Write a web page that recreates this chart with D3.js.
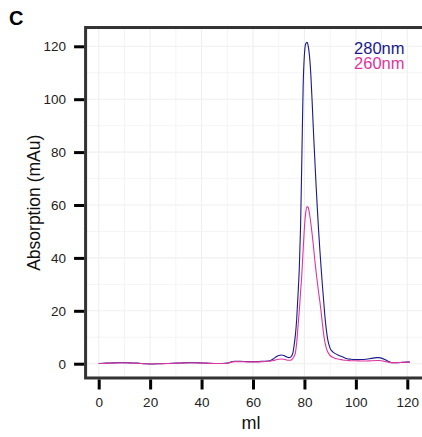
<!DOCTYPE html>
<html>
<head>
<meta charset="utf-8">
<script src="https://cdn.jsdelivr.net/npm/d3@7"></script>
<style>
  body { margin: 0; background: #fff; }
  text { font-family: "Liberation Sans", Arial, Helvetica, sans-serif; }
</style>
</head>
<body>
<div id="chart"></div>
<script>
// elution volume (ml)
const ml = [0,3,6,9,12,15,18,21,24,27,30,33,36,39,42,45,48,50,51,52,53,55,58,61,64,66,67,68,69,70,71,72,73,74,74.5,75,75.5,76,76.5,77,77.5,78,78.5,79,79.5,80,80.5,81,81.5,82,82.5,83,83.5,84,84.5,85,85.5,86,86.5,87,87.5,88,88.5,89,89.5,90,91,92,93,94,95,96,97,98,100,102,104,106,108,109,110,111,112,113,114,116,118,120,121];

// absorption at 280nm (mAu)
const a280 = [0.1,0.2,0.3,0.4,0.3,0.2,0.0,-0.1,0.0,0.1,0.2,0.3,0.4,0.3,0.2,0.1,0.1,0.2,0.5,0.8,0.9,0.9,0.8,0.8,0.9,1.0,1.3,1.9,2.6,3.1,3.3,3.1,2.6,2.3,2.4,2.9,4,7,11,17,26,36,52,78,105,117,121,121.5,120,116,109,99,88,78,68,59,50.5,43,36,29.5,23.5,17.5,13,9.5,7.3,5.8,4.5,3.8,3.3,2.9,2.5,2.1,1.8,1.7,1.6,1.6,1.7,2.0,2.3,2.3,2.1,1.7,1.2,0.7,0.4,0.4,0.5,0.6,0.6];

// absorption at 260nm (mAu)
const a260 = [0.05,0.15,0.25,0.35,0.25,0.15,0.0,-0.1,0.0,0.05,0.15,0.25,0.35,0.25,0.15,0.05,0.05,0.15,0.4,0.7,0.8,0.8,0.7,0.7,0.8,0.9,1.0,1.2,1.5,1.7,1.8,1.7,1.4,1.3,1.3,1.5,2,2.8,4.2,8,14,20,27,34,43,51.5,57,59.4,59,56.5,53,49,44.5,39.5,35,31,27,23.5,19.5,15,11,8,6,4.6,3.7,3.1,2.4,2.0,1.8,1.6,1.4,1.3,1.2,1.1,1.1,1.0,1.0,1.1,1.2,1.2,1.1,0.9,0.7,0.5,0.4,0.4,0.5,0.6,0.6];

const seriesNames = ['280nm', '260nm'];
const seriesColors = ['#1a1a8c', '#e0359f'];
const xTicks = [0, 20, 40, 60, 80, 100, 120];
const yTicks = [0, 20, 40, 60, 80, 100, 120];

const width = 422, height = 437;

const svg = d3.select('#chart')
  .append('svg')
  .attr('width', width)
  .attr('height', height);

svg.append('rect').attr('width', width).attr('height', height).attr('fill', '#fff');

// scales
const x = d3.scaleLinear().domain([0, 120]).range([98.7, 407.3]);
const y = d3.scaleLinear().domain([0, 120]).range([363.7, 46.3]);

const panel = {
  left: x(-5.1), right: x(127.5),
  top: y(127.1), bottom: y(-5.4)
};

// grid, minor + major every 10
const gridX = d3.range(0, 130, 10);
const gridY = d3.range(0, 130, 10);
const grid = svg.append('g');
grid.selectAll('.gx').data(gridX).enter().append('line')
  .attr('x1', d => x(d)).attr('x2', d => x(d))
  .attr('y1', panel.top).attr('y2', panel.bottom)
  .attr('stroke', '#efefef')
  .attr('stroke-width', d => d % 20 == 0 ? 1.1 : 0.7);
grid.selectAll('.gy').data(gridY).enter().append('line')
  .attr('y1', d => y(d)).attr('y2', d => y(d))
  .attr('x1', panel.left).attr('x2', panel.right)
  .attr('stroke', '#efefef')
  .attr('stroke-width', d => d % 20 == 0 ? 1.1 : 0.7);

// lines
const line = d3.line()
  .x((d, i) => x(ml[i]))
  .y(d => y(d))
  .curve(d3.curveMonotoneX);

[a280, a260].forEach((vals, k) => {
  svg.append('path')
    .datum(vals)
    .attr('d', line)
    .attr('fill', 'none')
    .attr('stroke', seriesColors[k])
    .attr('stroke-width', 1.1);
});

// panel border
svg.append('rect')
  .attr('x', panel.left).attr('y', panel.top)
  .attr('width', panel.right - panel.left)
  .attr('height', panel.bottom - panel.top)
  .attr('fill', 'none')
  .attr('stroke', '#333')
  .attr('stroke-width', 3);

// axes
const xAxis = svg.append('g')
  .attr('transform', `translate(0,${panel.bottom + 1.5})`)
  .call(d3.axisBottom(x).tickValues(xTicks).tickSize(10).tickPadding(8));
const yAxis = svg.append('g')
  .attr('transform', `translate(${panel.left - 1.5},0)`)
  .call(d3.axisLeft(y).tickValues(yTicks).tickSize(10).tickPadding(8));

[xAxis, yAxis].forEach(ax => {
  ax.select('.domain').remove();
  ax.selectAll('.tick line').attr('stroke', '#000').attr('stroke-width', 3);
  ax.selectAll('.tick text')
    .attr('fill', '#222')
    .style('font-size', '13.5px')
    .style('font-family', '"Liberation Sans", Arial, sans-serif');
});

// axis titles
svg.append('text')
  .attr('x', (panel.left + panel.right) / 2 - 5)
  .attr('y', 429)
  .attr('text-anchor', 'middle')
  .attr('font-size', 18)
  .attr('fill', '#111')
  .text('ml');

svg.append('text')
  .attr('transform', `translate(40,${(panel.top + panel.bottom) / 2}) rotate(-90)`)
  .attr('text-anchor', 'middle')
  .attr('font-size', 17.5)
  .attr('fill', '#111')
  .text('Absorption (mAu)');

// legend
seriesNames.forEach((name, k) => {
  svg.append('text')
    .attr('x', 404.5)
    .attr('y', 54 + k * 14.5)
    .attr('text-anchor', 'end')
    .attr('font-size', 16.5)
    .attr('fill', seriesColors[k])
    .text(name);
});

// panel letter
svg.append('text')
  .attr('x', 9)
  .attr('y', 25)
  .attr('font-size', 20)
  .attr('font-weight', 'bold')
  .attr('fill', '#000')
  .text('C');
</script>
</body>
</html>
